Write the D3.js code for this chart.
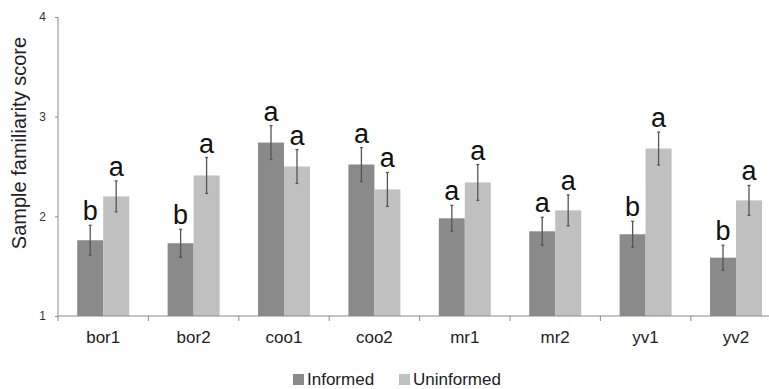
<!DOCTYPE html>
<html>
<head>
<meta charset="utf-8">
<script src="https://cdn.jsdelivr.net/npm/d3@7"></script>
<style>
  body { margin: 0; background: #fff; }
  text { font-family: "Liberation Sans", Arial, sans-serif; }
</style>
</head>
<body>
<div id="container"></div>
<script>
  // data
  const categories = ["bor1", "bor2", "coo1", "coo2", "mr1", "mr2", "yv1", "yv2"];
  const series = ["Informed", "Uninformed"];
  const informed = [1.76, 1.73, 2.74, 2.52, 1.98, 1.85, 1.82, 1.585];
  const uninformed = [2.20, 2.41, 2.50, 2.27, 2.34, 2.06, 2.68, 2.16];
  const informedErr = [0.15, 0.14, 0.17, 0.17, 0.13, 0.14, 0.13, 0.125];
  const uninformedErr = [0.155, 0.18, 0.17, 0.17, 0.18, 0.155, 0.165, 0.15];
  const informedLetters = ["b", "b", "a", "a", "a", "a", "b", "b"];
  const uninformedLetters = ["a", "a", "a", "a", "a", "a", "a", "a"];
  const yTicks = [1, 2, 3, 4];

  const width = 769;
  const height = 389;
  const colors = { Informed: "#8a8a8a", Uninformed: "#c0c0c0" };
  const axisColor = "#8a8a8a";

  const svg = d3.create("svg")
      .attr("width", width)
      .attr("height", height);

  const x = d3.scaleBand()
      .domain(categories)
      .range([58, 58 + 8 * 90.4]);

  const x1 = d3.scaleBand()
      .domain(series)
      .range([0, x.bandwidth()])
      .paddingOuter(0.74);

  const y = d3.scaleLinear()
      .domain([1, 4])
      .range([316, 17]);

  const rows = [];
  categories.forEach((c, i) => {
    rows.push({ cat: c, s: "Informed", v: informed[i], e: informedErr[i], l: informedLetters[i] });
    rows.push({ cat: c, s: "Uninformed", v: uninformed[i], e: uninformedErr[i], l: uninformedLetters[i] });
  });

  // bars
  svg.append("g").selectAll("rect")
    .data(rows)
    .join("rect")
      .attr("x", d => x(d.cat) + x1(d.s))
      .attr("y", d => y(d.v))
      .attr("width", x1.bandwidth())
      .attr("height", d => y(1) - y(d.v))
      .attr("fill", d => colors[d.s]);

  // error bars
  const err = svg.append("g")
      .attr("stroke", "#555")
      .attr("stroke-width", 1.3);
  rows.forEach(d => {
    const cx = x(d.cat) + x1(d.s) + x1.bandwidth() / 2;
    err.append("line")
        .attr("x1", cx).attr("x2", cx)
        .attr("y1", y(d.v + d.e)).attr("y2", y(d.v - d.e));
    err.append("line")
        .attr("x1", cx - 1.5).attr("x2", cx + 1.5)
        .attr("y1", y(d.v + d.e)).attr("y2", y(d.v + d.e));
    err.append("line")
        .attr("x1", cx - 1.5).attr("x2", cx + 1.5)
        .attr("y1", y(d.v - d.e)).attr("y2", y(d.v - d.e));
  });

  // significance letters
  svg.append("g").selectAll("text")
    .data(rows)
    .join("text")
      .attr("x", d => x(d.cat) + x1(d.s) + x1.bandwidth() / 2)
      .attr("y", d => y(d.v + d.e) - 5)
      .attr("text-anchor", "middle")
      .attr("font-size", 27)
      .attr("fill", "#111")
      .text(d => d.l);

  // y axis
  const yAxis = svg.append("g")
      .attr("transform", "translate(58,0)")
      .call(d3.axisLeft(y).tickValues(yTicks).tickSize(3).tickPadding(9).tickFormat(d3.format("d")));
  yAxis.select(".domain").remove();
  yAxis.append("line")
      .attr("x1", 0).attr("x2", 0)
      .attr("y1", y(4)).attr("y2", y(1) + 5)
      .attr("stroke", axisColor);
  yAxis.selectAll(".tick line").attr("stroke", axisColor);
  yAxis.selectAll(".tick text")
      .attr("font-size", 12)
      .attr("fill", "#333")
      .attr("font-family", "Liberation Sans, Arial, sans-serif");

  // x axis
  const xAxis = svg.append("g")
      .attr("transform", `translate(0,${y(1)})`);
  xAxis.append("line")
      .attr("x1", x.range()[0]).attr("x2", x.range()[1])
      .attr("stroke", axisColor);
  xAxis.selectAll(".sep")
    .data(categories.slice(1))
    .join("line")
      .attr("class", "sep")
      .attr("x1", d => x(d)).attr("x2", d => x(d))
      .attr("y1", 0).attr("y2", 5)
      .attr("stroke", axisColor);
  xAxis.selectAll(".lab")
    .data(categories)
    .join("text")
      .attr("class", "lab")
      .attr("x", d => x(d) + x.bandwidth() / 2)
      .attr("y", 27)
      .attr("text-anchor", "middle")
      .attr("font-size", 17)
      .attr("fill", "#222")
      .text(d => d);

  // y title
  svg.append("text")
      .attr("transform", "translate(26,143) rotate(-90)")
      .attr("text-anchor", "middle")
      .attr("font-size", 20)
      .attr("fill", "#222")
      .text("Sample familiarity score");

  // legend
  const legendX = { Informed: 293, Uninformed: 399 };
  const legend = svg.append("g");
  series.forEach(s => {
    legend.append("rect")
        .attr("x", legendX[s]).attr("y", 374)
        .attr("width", 11).attr("height", 11)
        .attr("fill", colors[s]);
    legend.append("text")
        .attr("x", legendX[s] + 14).attr("y", 385)
        .attr("font-size", 17)
        .attr("fill", "#222")
        .text(s);
  });

  document.getElementById("container").append(svg.node());
</script>
</body>
</html>
